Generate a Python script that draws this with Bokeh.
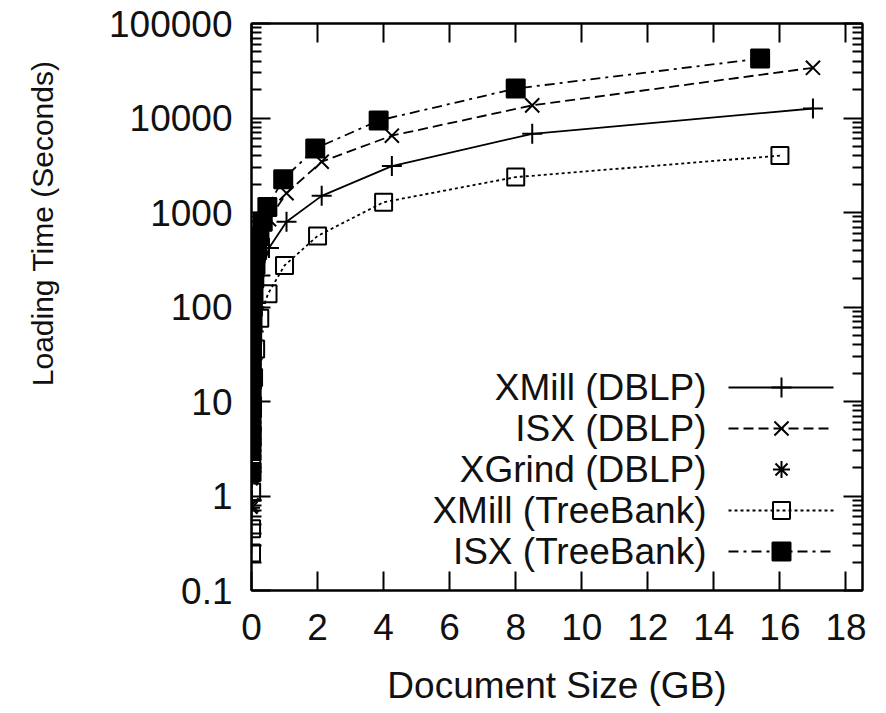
from bokeh.plotting import figure
from bokeh.models import (Range1d, LinearAxis, LogAxis, FixedTicker,
                          CustomJSTickFormatter, Title, LinearScale)
from bokeh.embed import file_html
from bokeh.resources import INLINE
from bokeh.core.properties import value

# ---------------- data ----------------
x_ticks = [0, 2, 4, 6, 8, 10, 12, 14, 16, 18]
y_ticks = [0.1, 1, 10, 100, 1000, 10000, 100000]

xmill_dblp_size = [17, 8.5, 4.25, 2.125, 1.06, 0.53, 0.27, 0.133, 0.066, 0.033, 0.017, 0.0083, 0.0042, 0.0021, 0.001]
xmill_dblp_time = [12600, 6800, 3100, 1500, 800, 420, 215, 110, 55, 28, 14, 7, 3.5, 1.8, 0.9]

isx_dblp_size = [17, 8.5, 4.25, 2.125, 1.06, 0.53, 0.27, 0.133, 0.066, 0.033, 0.017, 0.0083, 0.0042, 0.0021, 0.001, 0.0005]
isx_dblp_time = [34000, 13600, 6500, 3450, 1600, 850, 420, 210, 105, 52, 26, 13, 6.5, 3.2, 1.6, 0.8]

xgrind_dblp_size = [0.133, 0.066, 0.033, 0.017, 0.0083, 0.0042, 0.0021, 0.001, 0.0005]
xgrind_dblp_time = [210, 100, 50, 25, 12, 6, 3, 1.5, 0.75]

xmill_tb_size = [16, 8, 4, 2, 1, 0.5, 0.25, 0.125, 0.0625, 0.031, 0.0156, 0.0078, 0.0039, 0.002, 0.001]
xmill_tb_time = [4000, 2370, 1285, 565, 275, 138, 76, 36, 18, 9, 4.5, 2.2, 1.1, 0.45, 0.25]

isx_tb_size = [15.4, 8.0, 3.85, 1.93, 0.96, 0.48, 0.34, 0.24, 0.17, 0.12, 0.085, 0.06, 0.042, 0.03,
               0.021, 0.015, 0.011, 0.0075, 0.0053, 0.0038, 0.0027, 0.0019, 0.0013, 0.0009]
isx_tb_time = [42500, 20500, 9400, 4750, 2250, 1140, 800, 560, 400, 280, 200, 140, 100, 70,
               50, 35, 25, 17, 12, 8.5, 6, 4.2, 3, 1.8]

legend_names = ["XMill (DBLP)", "ISX (DBLP)", "XGrind (DBLP)", "XMill (TreeBank)", "ISX (TreeBank)"]

# ---------------- layout ----------------
W, H = 886, 713
FL, FR, FT, FB = 251, 862, 23, 590
FONT = "Liberation Sans"
FS = "37px"

p = figure(width=W, height=H, x_range=Range1d(0, 18.5), y_range=Range1d(0.1, 100000),
           y_axis_type="log", output_backend="svg", toolbar_location=None,
           min_border_left=FL, min_border_right=W - FR, min_border_top=FT,
           min_border_bottom=H - FB)
p.grid.visible = False
p.outline_line_color = "black"
p.outline_line_width = 2
p.background_fill_color = "white"
p.border_fill_color = "white"

minor_y = [d * k for d in y_ticks[:-1] for k in range(2, 10)]

xa = p.xaxis[0]
xa.ticker = FixedTicker(ticks=x_ticks, minor_ticks=[])
ya = p.yaxis[0]
ya.ticker = FixedTicker(ticks=y_ticks, minor_ticks=minor_y)
ya.formatter = CustomJSTickFormatter(code="return String(tick);")

for ax in (xa, ya):
    ax.axis_line_color = "black"
    ax.axis_line_width = 2
    ax.major_tick_in = 19
    ax.major_tick_out = 0
    ax.minor_tick_in = 10
    ax.minor_tick_out = 0
    ax.major_tick_line_width = 2
    ax.minor_tick_line_width = 2
    ax.major_label_text_font = FONT
    ax.major_label_text_font_size = FS
    ax.major_label_text_color = "#111111"

xa.major_label_standoff = 23
ya.major_label_standoff = 19
xa.axis_label = "Document Size (GB)"
xa.axis_label_text_font = FONT
xa.axis_label_text_font_size = FS
xa.axis_label_text_font_style = "normal"
xa.axis_label_text_color = "#111111"
xa.axis_label_standoff = 22

empty = CustomJSTickFormatter(code="return '';")
top = LinearAxis(ticker=FixedTicker(ticks=x_ticks, minor_ticks=[]), formatter=empty,
                 major_tick_in=19, major_tick_out=0, major_tick_line_width=2,
                 axis_line_color="black", axis_line_width=2, major_label_standoff=0)
right = LogAxis(ticker=FixedTicker(ticks=y_ticks, minor_ticks=minor_y), formatter=empty,
                major_tick_in=19, major_tick_out=0, minor_tick_in=10, minor_tick_out=0,
                major_tick_line_width=2, minor_tick_line_width=2,
                axis_line_color="black", axis_line_width=2, major_label_standoff=0)
p.add_layout(top, "above")
p.add_layout(right, "right")

# invisible spacer between the tick labels and the y-axis title
spacer = LogAxis(ticker=FixedTicker(ticks=y_ticks, minor_ticks=[]), formatter=empty,
                 major_tick_in=0, major_tick_out=27, minor_tick_in=0, minor_tick_out=0,
                 major_tick_line_color=None, minor_tick_line_color=None,
                 axis_line_color=None, major_label_standoff=0)
p.add_layout(spacer, "left")

# y-axis title: a left-side title shifted like in the reference
p.add_layout(Title(text="Loading Time (Seconds)", align="right", offset=37, standoff=38,
                   vertical_align="top",
                   text_font=FONT, text_font_size="30px", text_font_style="normal",
                   text_color="#111111"), "left")

# pixel-like helper ranges for the legend
p.extra_x_ranges = {"px": Range1d(FL, FR)}
p.extra_y_ranges = {"py": Range1d(FB, FT)}
p.extra_x_scales = {"px": LinearScale()}
p.extra_y_scales = {"py": LinearScale()}

# ---------------- series ----------------
LW = 1.8
styles = [
    dict(dash="solid", marker="cross", size=20, fill=None, line=True),
    dict(dash="10 5", marker="x", size=20, fill=None, line=True),
    dict(dash="solid", marker="asterisk", size=17, fill=None, line=False),
    dict(dash="3 3", marker="square", size=17, fill=None, line=True),
    dict(dash="10 5 3 5", marker="square", size=18, fill="black", line=True),
]
data = [(xmill_dblp_size, xmill_dblp_time), (isx_dblp_size, isx_dblp_time),
        (xgrind_dblp_size, xgrind_dblp_time), (xmill_tb_size, xmill_tb_time),
        (isx_tb_size, isx_tb_time)]

for (xs, ys), st in zip(data, styles):
    if st["line"]:
        p.line(xs, ys, line_color="black", line_width=LW, line_dash=st["dash"])
    p.scatter(xs, ys, marker=st["marker"], size=st["size"], line_color="black",
              line_width=2, fill_color=st["fill"])

# ---------------- legend (text left, sample right, as in the reference) ----------------
LEG_TEXT_R, LEG_L0, LEG_L1, LEG_M, LEG_Y0, LEG_DY = 706, 728, 833, 781, 387, 41
leg_y = [LEG_Y0 + LEG_DY * i for i in range(len(legend_names))]
p.text(x=[LEG_TEXT_R] * len(legend_names), y=leg_y, text=legend_names,
       text_font=value(FONT), text_font_size=value(FS), text_color="#111111",
       text_align="right", text_baseline="middle",
       x_range_name="px", y_range_name="py")
for yy, st in zip(leg_y, styles):
    if st["line"]:
        p.line([LEG_L0, LEG_L1], [yy, yy], line_color="black", line_width=LW,
               line_dash=st["dash"], x_range_name="px", y_range_name="py")
    p.scatter([LEG_M], [yy], marker=st["marker"], size=st["size"], line_color="black",
              line_width=2, fill_color=st["fill"], x_range_name="px", y_range_name="py")

open("out.html", "w").write(file_html(p, INLINE))
